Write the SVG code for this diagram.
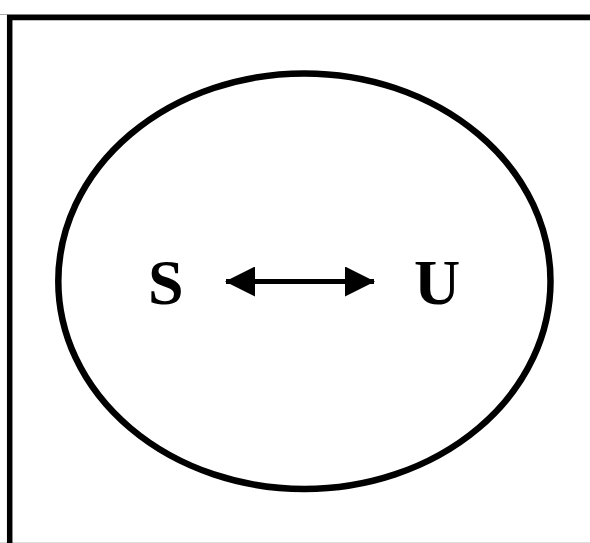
<svg xmlns="http://www.w3.org/2000/svg" width="590" height="543" viewBox="0 0 590 543">
<style>
.lbl{font-family:"Liberation Serif","Times New Roman",serif;font-weight:bold;font-size:64px;fill:#000}
</style>
<defs>
<marker id="ah" viewBox="0 0 30 30" refX="29" refY="15" markerWidth="30" markerHeight="30" markerUnits="userSpaceOnUse" orient="auto-start-reverse">
<path d="M0,0 L30,15 L0,30 Z" fill="#000"/>
</marker>
</defs>
<rect width="590" height="543" fill="#fff"/>
<line x1="0" y1="14.5" x2="590" y2="14.5" stroke="#aaa" stroke-width="1"/>
<line x1="0" y1="542.5" x2="590" y2="542.5" stroke="#ddd" stroke-width="1"/>
<path d="M9.7,543 V17.5 H590" fill="none" stroke="#000" stroke-width="5.5"/>
<g id="set">
<ellipse cx="304.4" cy="281.2" rx="246.1" ry="207.8" fill="none" stroke="#000" stroke-width="6.5"/>
</g>
<g id="S"><text class="lbl" x="148" y="304">S</text></g>
<g id="U"><text class="lbl" x="414" y="304">U</text></g>
<g id="connectors">
<line x1="226" y1="281.5" x2="374" y2="281.5" stroke="#000" stroke-width="5" marker-start="url(#ah)" marker-end="url(#ah)"/>
</g>
</svg>
